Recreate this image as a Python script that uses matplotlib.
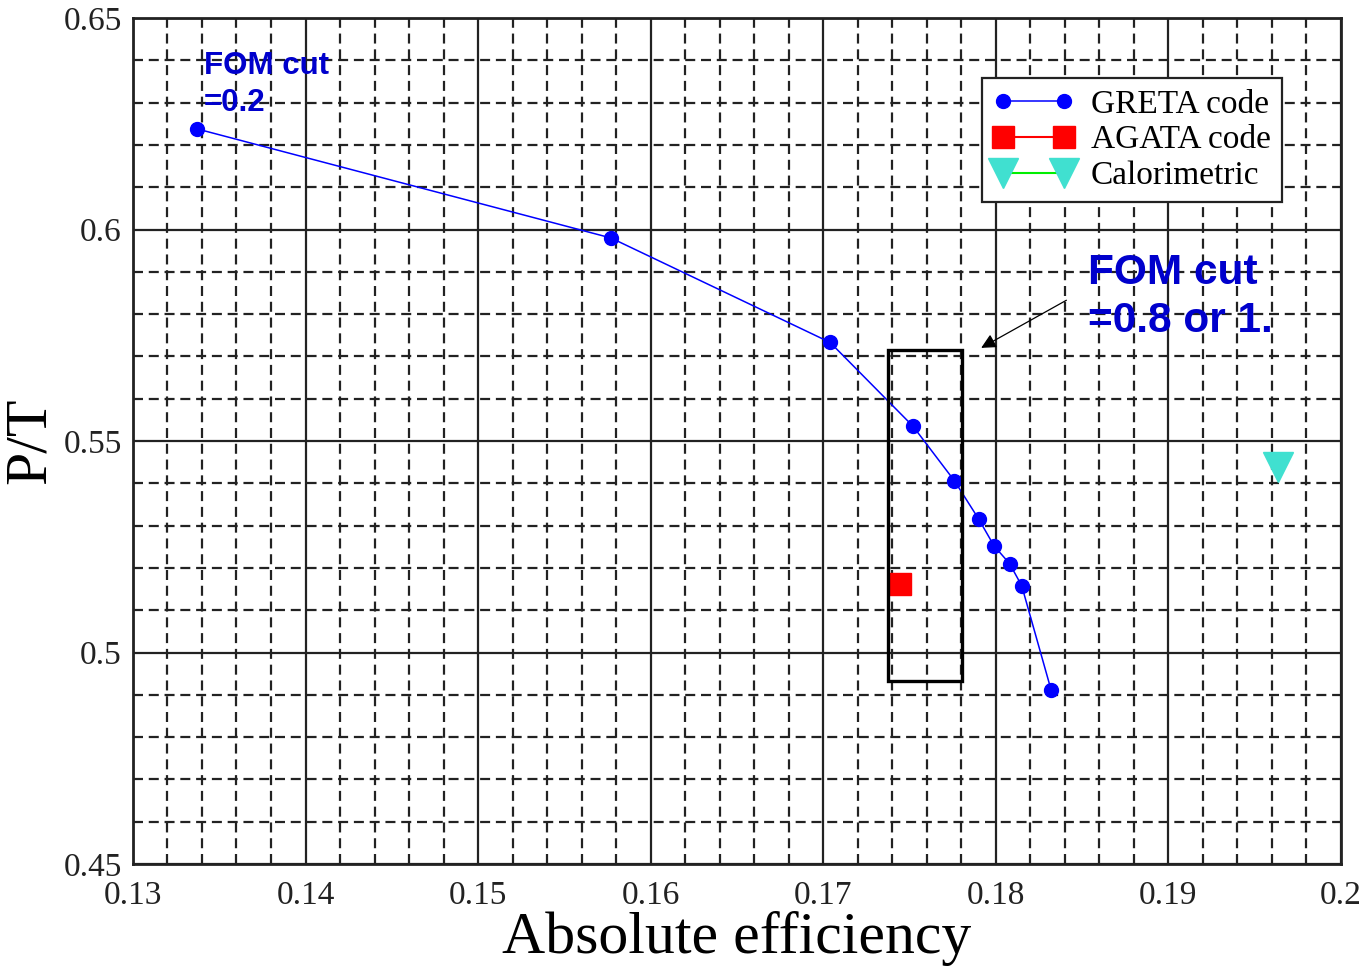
import matplotlib
matplotlib.use("Agg")
import matplotlib.pyplot as plt
from matplotlib.ticker import MultipleLocator
from matplotlib.patches import Rectangle

# GRETA tracking code, P/T vs absolute efficiency for different FOM cuts
greta_eff = [0.1337, 0.1577, 0.1704, 0.1752, 0.1776, 0.1790, 0.1799, 0.1808, 0.1815, 0.1832]
greta_pt = [0.6238, 0.5980, 0.5733, 0.5535, 0.5406, 0.5316, 0.5252, 0.5210, 0.5158, 0.4912]

agata_eff = [0.17445]
agata_pt = [0.5163]

calo_eff = [0.19636]
calo_pt = [0.5439]

xticks = [0.13, 0.14, 0.15, 0.16, 0.17, 0.18, 0.19, 0.2]
yticks = [0.45, 0.5, 0.55, 0.6, 0.65]

plt.rcParams['font.family'] = ['Liberation Serif', 'DejaVu Serif']

fig = plt.figure(figsize=(13.65, 9.68), dpi=100)
ax = fig.add_axes([0.0974, 0.1074, 0.885, 0.874])

ax.plot(greta_eff, greta_pt, color='#0000ff', lw=1.1, marker='o', ms=10,
        label='GRETA code', zorder=5)
ax.plot(agata_eff, agata_pt, color='#ff0000', lw=1.5, marker='s', ms=16,
        ls='-', label='AGATA code', zorder=5)
ax.plot(calo_eff, calo_pt, color='#00ee00', lw=1.5, marker='v', ms=21,
        mfc='#40e0d0', mec='#40e0d0', label='Calorimetric', zorder=5)

ax.set_xlim(0.13, 0.2)
ax.set_ylim(0.45, 0.65)
ax.set_xticks(xticks)
ax.set_xticklabels([str(t) for t in xticks])
ax.set_yticks(yticks)
ax.set_yticklabels([str(t) for t in yticks])
ax.xaxis.set_minor_locator(MultipleLocator(0.002))
ax.yaxis.set_minor_locator(MultipleLocator(0.01))

ax.grid(which='major', color='#222222', lw=1.6, ls='-')
ax.grid(which='minor', color='#222222', lw=1.6, ls=(0, (4.5, 2.6)))
ax.set_axisbelow(True)
ax.tick_params(which='both', length=0, labelsize=24, colors='#222222')
ax.tick_params(axis='x', pad=12)
ax.tick_params(axis='y', pad=8)
for s in ax.spines.values():
    s.set_color('#222222')
    s.set_linewidth(2)

ax.set_xlabel('Absolute efficiency', fontsize=43, labelpad=0)
ax.set_ylabel('P/T', fontsize=43, labelpad=4)

# box around the FOM cut points and annotation
ax.add_patch(Rectangle((0.17373, 0.4933), 0.00432, 0.0782, fill=False,
                       ec='black', lw=2.4, zorder=6))
ax.annotate('', xy=(0.17901, 0.5717), xytext=(0.18423, 0.5836),
            arrowprops=dict(arrowstyle='-|>', color='black', lw=0.9,
                            mutation_scale=22), zorder=6)
ax.text(0.18533, 0.5945, 'FOM cut\n=0.8 or 1.', color='#0000cc', fontsize=30.5,
        fontweight='bold', family=['Liberation Sans'], va='top', ha='left',
        linespacing=1.25, zorder=7)
ax.text(0.13411, 0.6422, 'FOM cut\n=0.2', color='#0000cc', fontsize=22.5,
        fontweight='bold', family=['Liberation Sans'], va='top', ha='left',
        linespacing=1.3, zorder=7)

leg = ax.legend(loc='upper right', bbox_to_anchor=(0.951, 0.929), numpoints=2,
                fontsize=24, fancybox=False, framealpha=1, edgecolor='#222222',
                labelspacing=0.16, handlelength=2.45, borderpad=0.33,
                handletextpad=0.5, borderaxespad=0)
leg.get_frame().set_linewidth(1.6)
leg.set_zorder(8)

fig.savefig('out.png', dpi=100)
